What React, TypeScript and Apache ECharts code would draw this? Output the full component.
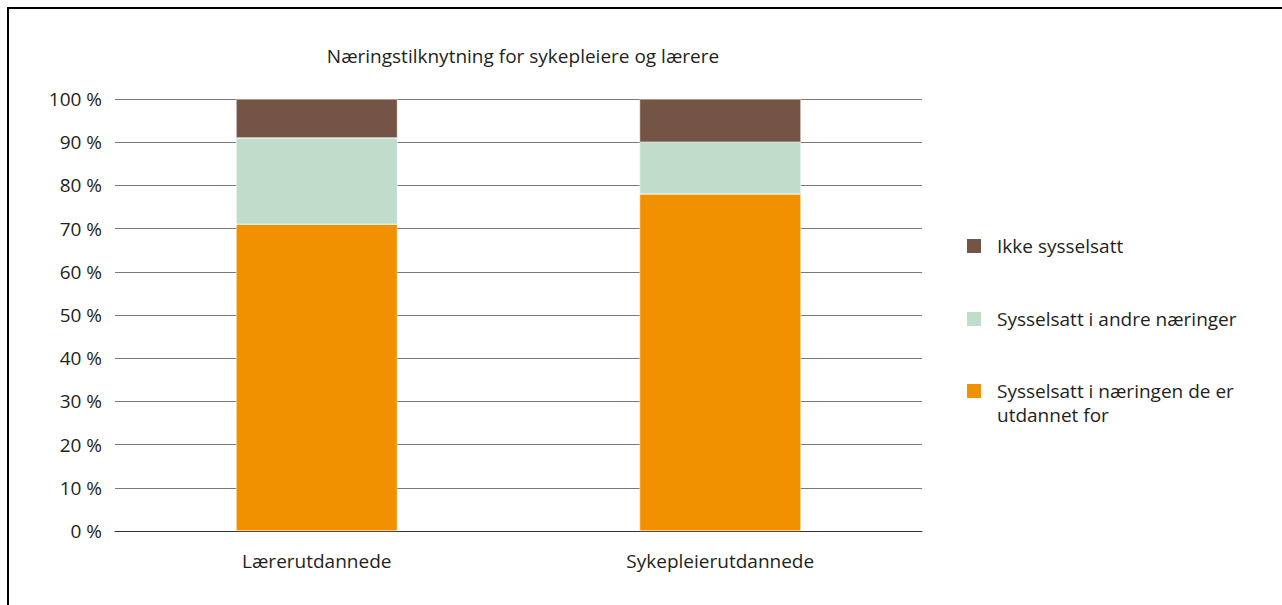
import React, { useEffect, useRef } from "react";
import * as echarts from "echarts";

const categories = ["Lærerutdannede", "Sykepleierutdannede"];
const seriesNames = [
  "Sysselsatt i næringen de er utdannet for",
  "Sysselsatt i andre næringer",
  "Ikke sysselsatt",
];
const inOwnIndustry = [71, 78];
const inOtherIndustries = [20, 12];
const notEmployed = [9, 10];
const colors = ["#F29100", "#C0DCCB", "#745444"];
const title = "Næringstilknytning for sykepleiere og lærere";

const FONT = "Open Sans";
const FS = 19;
const TEXT = "#231F20";

export default function App() {
  const ref = useRef<HTMLDivElement>(null);
  useEffect(() => {
    const chart = echarts.init(ref.current!, null, { renderer: "svg" });
    const values = [inOwnIndustry, inOtherIndustries, notEmployed];
    const legendTops = [350, 302, 229];
    chart.setOption({
      animation: false,
      textStyle: { fontFamily: FONT, color: TEXT },
      title: {
        text: title,
        left: 518,
        textAlign: "center",
        top: 41,
        textStyle: { fontFamily: FONT, fontSize: FS, fontWeight: "normal", color: TEXT },
      },
      grid: { left: 115, right: 360, top: 99, bottom: 74 },
      xAxis: {
        type: "category",
        data: categories,
        axisTick: { show: false },
        axisLine: { lineStyle: { color: "#333", width: 1 } },
        axisLabel: { fontFamily: FONT, fontSize: FS, color: TEXT, margin: 20 },
      },
      yAxis: {
        type: "value",
        min: 0,
        max: 100,
        interval: 10,
        axisLabel: {
          fontFamily: FONT,
          fontSize: FS,
          color: TEXT,
          margin: 13,
          formatter: (v: number) => `${v} %`,
        },
        splitLine: { lineStyle: { color: "#7a7a7a", width: 1 } },
      },
      legend: seriesNames.map((name, i) => ({
        data: [name],
        orient: "vertical",
        left: 960,
        top: legendTops[i],
        itemWidth: 16,
        itemHeight: 16,
        icon: "rect",
        formatter: (n: string) =>
          n === seriesNames[0] ? "\nSysselsatt i næringen de er\nutdannet for" : n,
        textStyle: {
          fontFamily: FONT,
          fontSize: FS,
          color: TEXT,
          lineHeight: 24,
          padding: [0, 0, 0, 10],
        },
      })),
      series: seriesNames.map((name, i) => ({
        name,
        type: "bar",
        stack: "total",
        barWidth: "40%",
        data: values[i],
        itemStyle: { color: colors[i], borderColor: "#ffffff", borderWidth: 0.5 },
      })),
      graphic: [
        {
          type: "line",
          shape: { x1: 8, y1: 8, x2: 1282, y2: 8 },
          style: { stroke: "#000", lineWidth: 2 },
        },
        {
          type: "line",
          shape: { x1: 8, y1: 7, x2: 8, y2: 605 },
          style: { stroke: "#000", lineWidth: 2 },
        },
      ],
    });
    return () => chart.dispose();
  }, []);
  return (
    <div
      ref={ref}
      style={{ position: "fixed", left: 0, top: 0, width: 1282, height: 605, background: "#fff" }}
    />
  );
}
